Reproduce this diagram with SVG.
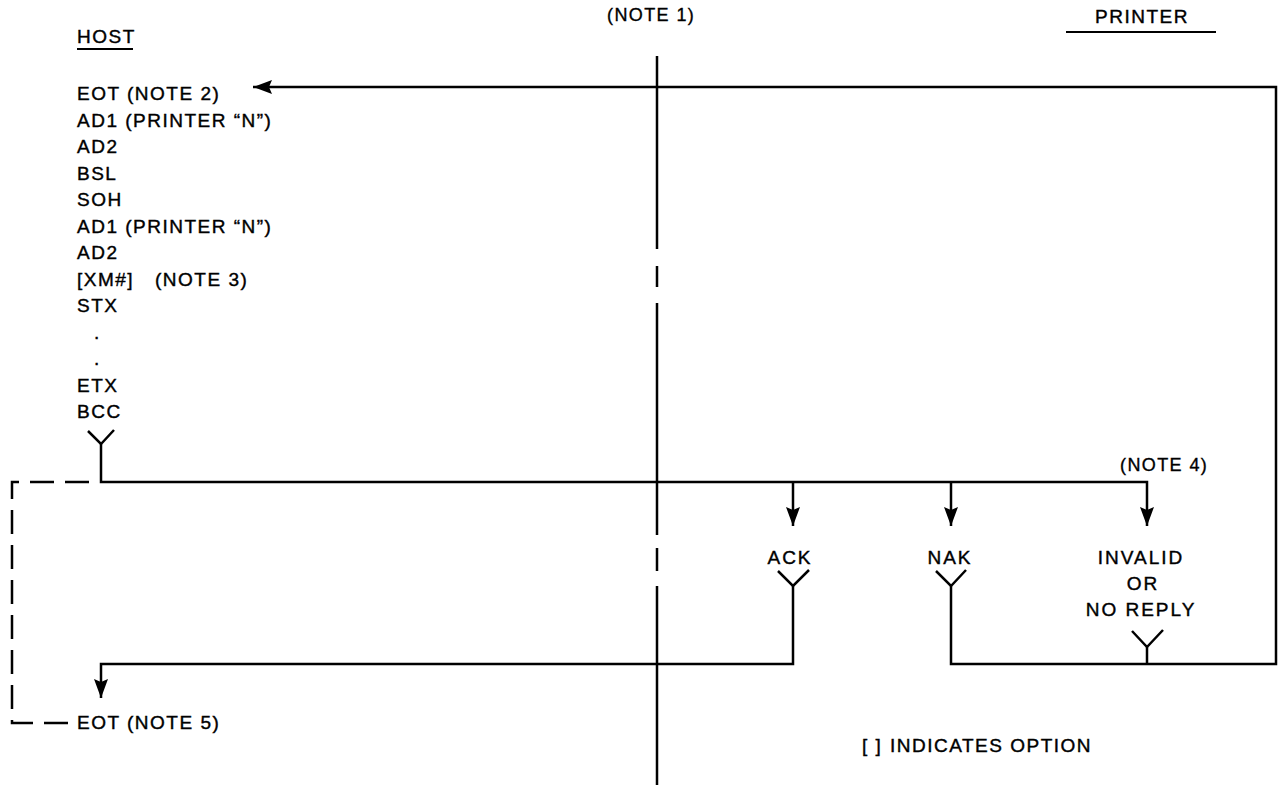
<svg xmlns="http://www.w3.org/2000/svg" width="1282" height="785" viewBox="0 0 1282 785">
<defs>
<marker id="ah" markerUnits="userSpaceOnUse" markerWidth="20" markerHeight="15" refX="19" refY="7" orient="auto">
<path d="M0,0 L19,7 L0,14 L3,7 z" fill="#000"/>
</marker>
<style>
.t{font-family:"Liberation Sans",Arial,Helvetica,sans-serif;font-size:19px;letter-spacing:1.5px;fill:#000;stroke:#000;stroke-width:0.4px}
.s{font-family:"Liberation Sans",Arial,Helvetica,sans-serif;font-size:18px;letter-spacing:1.4px;fill:#000;stroke:#000;stroke-width:0.35px}
.r{font-family:"Liberation Sans",Arial,Helvetica,sans-serif;font-size:19px;letter-spacing:2px;fill:#000;stroke:#000;stroke-width:0.4px;text-anchor:middle}
.ln{fill:none;stroke:#000;stroke-width:2.5;stroke-linejoin:miter}
.dash{fill:none;stroke:#000;stroke-width:2.5;stroke-dasharray:24,11}
.ul{stroke:#000;stroke-width:2}
</style>
</defs>
<rect width="1282" height="785" fill="#fff"/>

<g id="header-host">
<text class="t" x="77" y="43">HOST</text>
<line class="ul" x1="77" y1="49" x2="133" y2="49"/>
</g>
<g id="header-note1">
<text class="s" x="607" y="21">(NOTE 1)</text>
</g>
<g id="header-printer">
<text class="t" x="1095" y="23">PRINTER</text>
<line class="ul" x1="1066" y1="32" x2="1216" y2="32"/>
</g>

<g id="host-sequence">
<text class="t" x="77" y="100">EOT (NOTE 2)</text>
<text class="t" x="77" y="126.5">AD1 (PRINTER “N”)</text>
<text class="t" x="77" y="153">AD2</text>
<text class="t" x="77" y="179.5">BSL</text>
<text class="t" x="77" y="206">SOH</text>
<text class="t" x="77" y="232.5">AD1 (PRINTER “N”)</text>
<text class="t" x="77" y="259">AD2</text>
<text class="t" x="77" y="285.5">[XM#]</text>
<text class="t" x="155" y="285.5">(NOTE 3)</text>
<text class="t" x="77" y="312">STX</text>
<text class="t" x="94" y="338.5">.</text>
<text class="t" x="94" y="365">.</text>
<text class="t" x="77" y="391.5">ETX</text>
<text class="t" x="77" y="418">BCC</text>
</g>

<g id="host-eot5">
<text class="t" x="77" y="729">EOT (NOTE 5)</text>
</g>

<g id="reply-ack">
<text class="r" x="790" y="564">ACK</text>
<polyline class="ln" points="778,571 793,586 809,570"/>
</g>
<g id="reply-nak">
<text class="r" x="950" y="564">NAK</text>
<polyline class="ln" points="936,571 951,586 966,570"/>
</g>
<g id="reply-invalid">
<text class="r" x="1141" y="564">INVALID</text>
<text class="r" x="1143" y="590">OR</text>
<text class="r" x="1141" y="616">NO REPLY</text>
<polyline class="ln" points="1132,631 1147,647 1163,630"/>
</g>
<g id="note4">
<text class="s" x="1120" y="471">(NOTE 4)</text>
</g>
<g id="legend">
<text class="t" x="862" y="752">[ ]</text>
<text class="t" x="890" y="752">INDICATES OPTION</text>
</g>

<g id="divider">
<path class="ln" d="M657,56 V249 M657,266 V287 M657,303 V535 M657,548 V571 M657,586 V785"/>
</g>

<g id="connectors">
<polyline class="ln" points="88,431 101,444 114,430"/>
<path class="ln" d="M101,444 V482 H1147 V526" marker-end="url(#ah)"/>
<path class="ln" d="M793,482 V526" marker-end="url(#ah)"/>
<path class="ln" d="M951,482 V526" marker-end="url(#ah)"/>
<path class="ln" d="M793,586 V664 H101 V698" marker-end="url(#ah)"/>
<path class="ln" d="M951,586 V664 H1276 V87 H253" marker-end="url(#ah)"/>
<path class="ln" d="M1147,647 V664"/>
<path class="dash" d="M68,723 H12 V482 H92"/>
</g>
</svg>
